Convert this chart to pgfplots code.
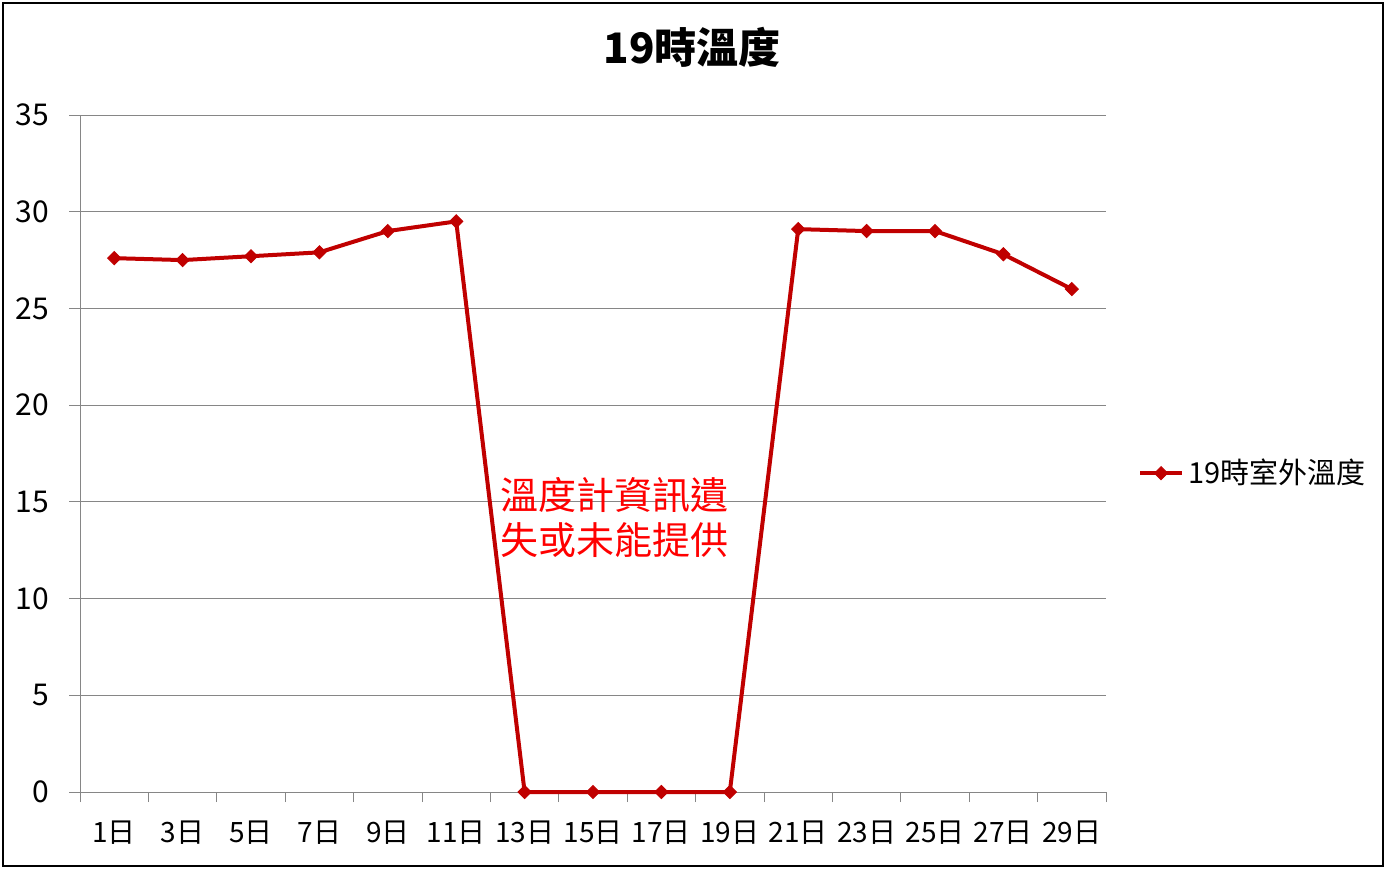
\documentclass[border=0pt]{standalone}
\usepackage{pgfplots}
\pgfplotsset{compat=1.18}
\usepackage{fontspec}
\setmainfont{Noto Sans CJK TC}
\definecolor{linered}{HTML}{C00000}
\definecolor{gridgray}{HTML}{868686}
\begin{document}
\begin{tikzpicture}[x=1pt,y=1pt]
\useasboundingbox (0,0) rectangle (693,-434.5);
\draw[line width=1pt] (1.5,-1.5) rectangle (691.5,-433);
\node[font=\fontsize{21}{25}\selectfont\bfseries] at (346,-23.5) {19時溫度};
\begin{axis}[
  at={(40pt,-396pt)}, anchor=south west,
  scale only axis, width=513pt, height=338.5pt,
  xmin=-0.5, xmax=14.5, ymin=0, ymax=35,
  ytick={0,5,...,35},
  xtick={0,...,14},
  xticklabels={1日,3日,5日,7日,9日,11日,13日,15日,17日,19日,21日,23日,25日,27日,29日},
  minor xtick={-0.5,0.5,...,14.5},
  axis x line*=bottom, axis y line*=left,
  axis line style={gridgray, line width=0.5pt},
  ymajorgrids, grid style={gridgray, line width=0.5pt},
  tick align=outside,
  major tick length=5.5pt, minor tick length=5pt,
  major x tick style={draw=none},
  every tick/.style={gridgray, line width=0.5pt},
  minor x tick style={gridgray, line width=0.5pt},
  /pgf/number format/assume math mode=true,
  yticklabel style={font=\fontsize{15}{17}\selectfont\mdseries, xshift=-6.5pt},
  xticklabel style={font=\fontsize{14}{17}\selectfont, yshift=-5.5pt},
  clip=false,
  legend style={at={(1.025,0.471)}, anchor=west, draw=none, fill=none,
    font=\fontsize{14.5}{17}\selectfont},
  legend image code/.code={\draw[mark repeat=2,mark phase=2] plot coordinates {(0cm,0cm)(0.37cm,0cm)(0.74cm,0cm)};},
]
\addplot[color=linered, line width=2pt, mark=square*, mark size=2.3pt,
  mark options={rotate=45, solid, fill=linered, line width=0.5pt}]
  coordinates {(0,27.6)(1,27.5)(2,27.7)(3,27.9)(4,29.0)(5,29.5)(6,0)(7,0)(8,0)(9,0)(10,29.1)(11,29.0)(12,29.0)(13,27.8)(14,26.0)};
\addlegendentry{19時室外溫度}
\node[text=red, align=center, font=\fontsize{19}{22.5}\selectfont] at (axis cs:7.32,14.2) {溫度計資訊遺\\失或未能提供};
\end{axis}
\end{tikzpicture}
\end{document}
